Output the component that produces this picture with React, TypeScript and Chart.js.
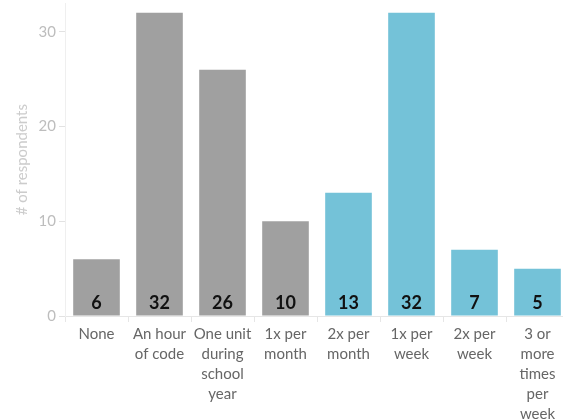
import { useEffect, useRef } from "react";
import { Chart, registerables } from "chart.js";

Chart.register(...registerables);

// Coding exposure frequency survey
const categories: (string | string[])[] = [
  "None",
  ["An hour", "of code"],
  ["One unit", "during", "school", "year"],
  ["1x per", "month"],
  ["2x per", "month"],
  ["1x per", "week"],
  ["2x per", "week"],
  ["3 or", "more", "times", "per", "week"],
];
const respondents = [6, 32, 26, 10, 13, 32, 7, 5];
const GREY = "#a0a0a0";
const BLUE = "#74c2d8";
const barColors = [GREY, GREY, GREY, GREY, BLUE, BLUE, BLUE, BLUE];
const yTicks = [0, 10, 20, 30];
const yMax = 33;

const FONT = "Lato, 'Open Sans', sans-serif";

// Writes each bar's value near the bottom of the bar
const valueLabels = {
  id: "valueLabels",
  afterDatasetsDraw(chart: any) {
    const { ctx } = chart;
    const meta = chart.getDatasetMeta(0);
    const values = chart.data.datasets[0].data as number[];
    ctx.save();
    ctx.font = `bold 18px ${FONT}`;
    ctx.fillStyle = "#111111";
    ctx.textAlign = "center";
    ctx.textBaseline = "alphabetic";
    meta.data.forEach((bar: any, i: number) => {
      const { x, base } = bar.getProps(["x", "base"], true);
      ctx.fillText(String(values[i]), x, base - 7);
    });
    ctx.restore();
  },
};

export default function App() {
  const canvasRef = useRef<HTMLCanvasElement | null>(null);

  useEffect(() => {
    if (!canvasRef.current) return;
    const chart = new Chart(canvasRef.current, {
      type: "bar",
      data: {
        labels: categories,
        datasets: [
          {
            data: respondents,
            backgroundColor: barColors,
            barPercentage: 0.74,
            categoryPercentage: 1,
          },
        ],
      },
      plugins: [valueLabels],
      options: {
        responsive: false,
        animation: false,
        devicePixelRatio: 1,
        layout: { padding: 0 },
        plugins: {
          legend: { display: false },
          tooltip: { enabled: false },
        },
        scales: {
          x: {
            offset: true,
            grid: {
              offset: true,
              drawOnChartArea: false,
              drawTicks: true,
              tickLength: 6,
              color: "#e6e6e6",
            },
            border: { display: true, color: "#e6e6e6" },
            ticks: {
              autoSkip: false,
              maxRotation: 0,
              minRotation: 0,
              padding: 2,
              color: "#666666",
              font: { family: FONT, size: 15, lineHeight: "20px" },
            },
          },
          y: {
            min: 0,
            max: yMax,
            afterBuildTicks: (scale: any) => {
              scale.ticks = yTicks.map((v) => ({ value: v }));
            },
            afterFit: (scale: any) => {
              scale.width = 65;
            },
            grid: {
              drawOnChartArea: false,
              drawTicks: true,
              tickLength: 6,
              color: "#e2e2e2",
            },
            border: { display: true, color: "#efefef" },
            ticks: {
              padding: 3,
              color: "#bdbdbd",
              font: { family: FONT, size: 15, lineHeight: 0.05 },
            },
            title: {
              display: true,
              text: "# of respondents",
              color: "#cccccc",
              padding: { top: 13, bottom: 4 },
              font: { family: FONT, size: 15 },
            },
          },
        },
      },
    });
    return () => chart.destroy();
  }, []);

  return (
    <div
      style={{
        position: "fixed",
        left: 0,
        top: 0,
        width: 563,
        height: 419,
        overflow: "hidden",
        background: "#ffffff",
      }}
    >
      <canvas ref={canvasRef} width={569} height={426} style={{ display: "block" }} />
    </div>
  );
}
